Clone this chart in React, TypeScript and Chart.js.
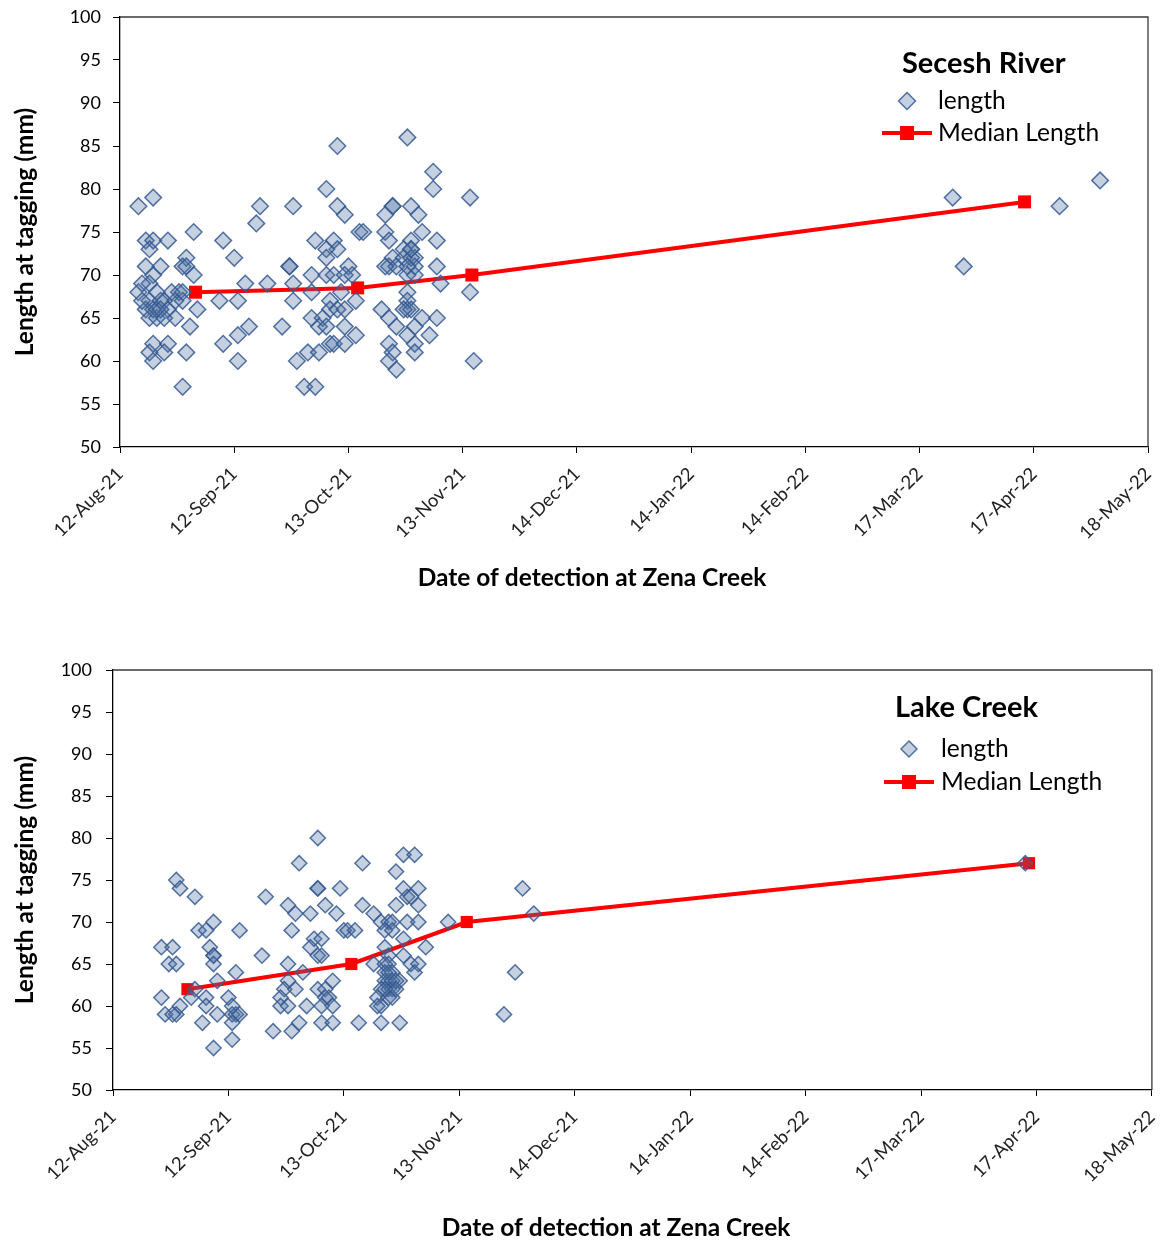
import { useEffect, useRef } from "react";
import { Chart, registerables } from "chart.js";

Chart.register(...registerables);

// x values are day offsets from 12-Aug-21
const START_UTC = Date.UTC(2021, 7, 12);
const DAY_MS = 86400000;
const MONTHS = ["Jan", "Feb", "Mar", "Apr", "May", "Jun", "Jul", "Aug", "Sep", "Oct", "Nov", "Dec"];
const xTickDays = [0, 31, 62, 93, 124, 155, 186, 217, 248, 279];
const yTickValues = [50, 55, 60, 65, 70, 75, 80, 85, 90, 95, 100];
const X_TITLE = "Date of detection at Zena Creek";
const Y_TITLE = "Length at tagging (mm)";

const FONT = "Lato, 'Noto Sans', sans-serif";

// Secesh River: [day, length mm]
const seceshLength: [number, number][] = [
  [5, 78], [9, 79], [7, 74], [9, 74], [13, 74], [8, 73], [20, 75], [28, 74], [31, 72],
  [7, 71], [11, 71], [9, 70], [18, 72], [17, 71], [18, 71], [20, 70], [5, 68], [8, 69],
  [10, 68], [8, 67], [12, 67], [7, 66], [10, 66], [13, 66], [8, 65], [10, 65], [16, 68],
  [17, 68], [15, 67], [17, 67], [21, 66], [15, 65], [19, 64], [27, 67], [32, 67], [8, 61],
  [9, 62], [13, 62], [12, 61], [9, 60], [18, 61], [28, 62], [32, 63], [32, 60], [17, 57],
  [6, 67], [11, 67], [9, 66], [14, 68], [6, 69], [12, 65], [11, 66],
  [59, 85], [56, 80], [38, 78], [47, 78], [59, 78], [61, 77], [37, 76], [65, 75], [53, 74],
  [58, 74], [59, 73], [56, 73], [56, 72], [46, 71], [46, 71], [62, 71], [34, 69], [40, 69],
  [47, 69], [52, 70], [56, 70], [58, 70], [61, 70], [63, 70], [52, 68], [60, 68], [47, 67],
  [57, 67], [64, 67], [57, 66], [59, 66], [61, 66], [52, 65], [55, 65], [54, 64], [56, 64],
  [61, 64], [64, 63], [35, 64], [44, 64], [57, 62], [58, 62], [61, 62], [51, 61], [54, 61],
  [48, 60], [50, 57], [53, 57],
  [78, 86], [85, 82], [85, 80], [95, 79], [74, 78], [74, 78], [79, 78], [72, 77], [81, 77],
  [66, 75], [72, 75], [82, 75], [73, 74], [79, 74], [86, 74], [79, 73], [77, 73], [80, 72],
  [74, 72], [73, 71], [75, 71], [80, 71], [86, 71], [80, 70], [78, 70], [87, 69], [78, 68],
  [78, 67], [95, 68], [71, 66], [78, 66], [79, 66], [73, 65], [82, 65], [86, 65], [75, 64],
  [80, 64], [78, 63], [84, 63], [73, 62], [80, 62], [74, 61], [80, 61], [73, 60], [75, 59],
  [96, 60], [77, 72], [79, 72], [78, 71], [77, 66], [72, 71], [79, 73],
  [226, 79], [229, 71], [255, 78], [266, 81],
];
const seceshMedian: [number, number][] = [[20.5, 68], [64.5, 68.5], [95.5, 70], [245.5, 78.5]];

// Lake Creek: [day, length mm]
const lakeLength: [number, number][] = [
  [17, 75], [18, 74], [22, 73], [23, 69], [27, 70], [25, 69], [34, 69], [13, 67], [16, 67],
  [26, 67], [27, 66], [27, 66], [27, 65], [15, 65], [17, 65], [33, 64], [28, 63], [22, 62],
  [13, 61], [21, 61], [25, 61], [31, 61], [32, 60], [18, 60], [25, 60], [14, 59], [17, 59],
  [16, 59], [28, 59], [32, 59], [33, 59], [34, 59], [24, 58], [32, 58], [32, 56], [27, 55],
  [55, 80], [50, 77], [55, 74], [55, 74], [61, 74], [41, 73], [47, 72], [57, 72], [49, 71],
  [53, 71], [60, 71], [48, 69], [54, 68], [56, 68], [62, 69], [63, 69], [53, 67], [55, 66],
  [56, 66], [40, 66], [47, 65], [51, 64], [59, 63], [47, 63], [46, 62], [49, 62], [55, 62],
  [57, 62], [45, 61], [57, 61], [58, 61], [45, 60], [47, 60], [52, 60], [59, 60], [56, 60],
  [50, 58], [56, 58], [59, 58], [43, 57], [48, 57],
  [78, 78], [81, 78], [67, 77], [76, 76], [78, 74], [82, 74], [79, 73], [80, 73], [82, 72],
  [76, 72], [67, 72], [70, 71], [72, 70], [74, 70], [75, 70], [79, 70], [82, 70], [90, 70],
  [73, 69], [75, 69], [65, 69], [78, 68], [84, 67], [73, 67], [78, 66], [74, 66], [70, 65],
  [73, 65], [74, 65], [80, 65], [82, 65], [81, 64], [75, 64], [73, 64], [77, 63], [73, 63],
  [74, 63], [72, 62], [74, 62], [75, 62], [71, 61], [74, 61], [72, 60], [71, 60], [66, 58],
  [72, 58], [77, 58], [74, 64], [75, 63], [76, 63], [73, 62], [75, 61], [76, 62],
  [110, 74], [113, 71], [108, 64], [105, 59], [245, 77],
];
const lakeMedian: [number, number][] = [[20, 62], [64, 65], [95, 70], [246, 77]];

function fmtDate(day: number): string {
  const d = new Date(START_UTC + day * DAY_MS);
  const yy = d.getUTCFullYear() % 100;
  return `${d.getUTCDate()}-${MONTHS[d.getUTCMonth()]}-${yy < 10 ? "0" + yy : yy}`;
}

type Geo = {
  height: number;
  padTop: number;
  padRight: number;
  yWidth: number;
  xHeight: number;
  yTickPad: number;
  xTitleX: number;
  xTitleY: number;
  diamondR: number;
  squareR: number;
  legend: {
    title: string;
    titleX: number;
    titleY: number;
    markerX: number;
    row1Y: number;
    row2Y: number;
    textX: number;
    lineX1: number;
    lineX2: number;
    dR: number;
    sq: number;
  };
};

const DIAMOND_FILL = "rgba(79,114,163,0.33)";
const DIAMOND_BORDER = "rgba(55,90,145,0.85)";
const RED = "#ff0000";

const framePlugin = {
  id: "frame",
  afterDraw(chart: any) {
    const { ctx, chartArea } = chart;
    ctx.save();
    ctx.strokeStyle = "#3a3a3a";
    ctx.lineWidth = 1.3;
    ctx.beginPath();
    ctx.moveTo(chartArea.left, chartArea.top);
    ctx.lineTo(chartArea.right, chartArea.top);
    ctx.lineTo(chartArea.right, chartArea.bottom);
    ctx.stroke();
    ctx.restore();
  },
};

function annotationPlugin(geo: Geo) {
  const g = geo.legend;
  return {
    id: "customLegend",
    afterDraw(chart: any) {
      const ctx: CanvasRenderingContext2D = chart.ctx;
      ctx.save();
      // x-axis title
      ctx.fillStyle = "#000";
      ctx.textBaseline = "middle";
      ctx.textAlign = "center";
      ctx.font = `bold 24.5px ${FONT}`;
      ctx.fillText(X_TITLE, geo.xTitleX, geo.xTitleY);
      // legend
      ctx.textAlign = "left";
      ctx.font = `bold 29px ${FONT}`;
      ctx.fillText(g.title, g.titleX, g.titleY);
      ctx.beginPath();
      ctx.moveTo(g.markerX, g.row1Y - g.dR);
      ctx.lineTo(g.markerX + g.dR, g.row1Y);
      ctx.lineTo(g.markerX, g.row1Y + g.dR);
      ctx.lineTo(g.markerX - g.dR, g.row1Y);
      ctx.closePath();
      ctx.fillStyle = DIAMOND_FILL;
      ctx.fill();
      ctx.strokeStyle = DIAMOND_BORDER;
      ctx.lineWidth = 1.5;
      ctx.stroke();
      ctx.strokeStyle = RED;
      ctx.lineWidth = 4;
      ctx.beginPath();
      ctx.moveTo(g.lineX1, g.row2Y);
      ctx.lineTo(g.lineX2, g.row2Y);
      ctx.stroke();
      ctx.fillStyle = RED;
      const mx = (g.lineX1 + g.lineX2) / 2;
      ctx.fillRect(mx - g.sq, g.row2Y - g.sq, g.sq * 2, g.sq * 2);
      ctx.fillStyle = "#000";
      ctx.font = `24.6px ${FONT}`;
      ctx.fillText("length", g.textX, g.row1Y);
      ctx.fillText("Median Length", g.textX, g.row2Y);
      ctx.restore();
    },
  };
}

function makeConfig(points: [number, number][], medians: [number, number][], g: Geo): any {
  return {
    type: "scatter",
    data: {
      datasets: [
        {
          type: "scatter",
          label: "length",
          data: points.map(([x, y]) => ({ x, y })),
          pointStyle: "rectRot",
          pointRadius: g.diamondR,
          backgroundColor: DIAMOND_FILL,
          borderColor: DIAMOND_BORDER,
          borderWidth: 1.5,
        },
        {
          type: "line",
          label: "Median Length",
          data: medians.map(([x, y]) => ({ x, y })),
          showLine: true,
          borderColor: RED,
          borderWidth: 4,
          pointStyle: "rect",
          pointRadius: g.squareR,
          pointBackgroundColor: RED,
          pointBorderColor: RED,
          pointBorderWidth: 0,
          fill: false,
          tension: 0,
        },
      ],
    },
    options: {
      responsive: false,
      animation: false,
      layout: { padding: { top: g.padTop, right: g.padRight, left: 0, bottom: 0 } },
      plugins: { legend: { display: false }, tooltip: { enabled: false } },
      scales: {
        x: {
          type: "linear",
          min: 0,
          max: 279,
          afterBuildTicks: (s: any) => {
            s.ticks = xTickDays.map((v) => ({ value: v }));
          },
          afterFit: (s: any) => {
            s.height = g.xHeight;
            s.paddingLeft = 0;
            s.paddingRight = 0;
          },
          ticks: {
            callback: (v: any) => fmtDate(Number(v)),
            minRotation: 45,
            maxRotation: 45,
            autoSkip: false,
            font: { family: FONT, size: 18.5 },
            color: "#222",
            padding: 10,
          },
          grid: { drawOnChartArea: false, drawTicks: true, tickLength: 6, tickColor: "#000", color: "#000" },
          border: { color: "#000", width: 1.3 },
          title: { display: false },
        },
        y: {
          type: "linear",
          min: 50,
          max: 100,
          afterBuildTicks: (s: any) => {
            s.ticks = yTickValues.map((v) => ({ value: v }));
          },
          afterFit: (s: any) => {
            s.width = g.yWidth;
            s.paddingTop = 0;
            s.paddingBottom = 0;
          },
          ticks: {
            font: { family: FONT, size: 18 },
            color: "#000",
            padding: g.yTickPad,
          },
          grid: { drawOnChartArea: false, drawTicks: true, tickLength: 7, tickColor: "#000", color: "#000" },
          border: { color: "#000", width: 1.3 },
          title: {
            display: true,
            text: Y_TITLE,
            font: { family: FONT, size: 24.5, weight: "bold" },
            color: "#000",
            padding: { top: 10, bottom: 0 },
          },
        },
      },
    },
    plugins: [framePlugin, annotationPlugin(g)],
  };
}

const topGeo: Geo = {
  height: 610,
  padTop: 17,
  padRight: 13,
  yWidth: 120,
  xHeight: 163,
  yTickPad: 12,
  xTitleX: 592,
  xTitleY: 578,
  diamondR: 8.3,
  squareR: 9.2,
  legend: {
    title: "Secesh River",
    titleX: 902,
    titleY: 64,
    markerX: 907,
    row1Y: 101,
    row2Y: 133,
    textX: 938,
    lineX1: 882,
    lineX2: 932,
    dR: 8.5,
    sq: 7,
  },
};

const bottomGeo: Geo = {
  height: 631,
  padTop: 60,
  padRight: 6,
  yWidth: 113,
  xHeight: 151,
  yTickPad: 14,
  xTitleX: 616,
  xTitleY: 618,
  diamondR: 7.6,
  squareR: 8.6,
  legend: {
    title: "Lake Creek",
    titleX: 895,
    titleY: 98,
    markerX: 909,
    row1Y: 139,
    row2Y: 172,
    textX: 941,
    lineX1: 884,
    lineX2: 934,
    dR: 8,
    sq: 7,
  },
};

function Panel({ points, medians, geo }: { points: [number, number][]; medians: [number, number][]; geo: Geo }) {
  const ref = useRef<HTMLCanvasElement | null>(null);
  useEffect(() => {
    if (!ref.current) return;
    const chart = new Chart(ref.current, makeConfig(points, medians, geo));
    return () => chart.destroy();
  }, [points, medians, geo]);
  return <canvas ref={ref} width={1161} height={geo.height} style={{ display: "block", width: 1161, height: geo.height }} />;
}

export default function App() {
  return (
    <div style={{ position: "absolute", left: 0, top: 0, width: 1161, height: 1241, background: "#fff" }}>
      <Panel points={seceshLength} medians={seceshMedian} geo={topGeo} />
      <Panel points={lakeLength} medians={lakeMedian} geo={bottomGeo} />
    </div>
  );
}
